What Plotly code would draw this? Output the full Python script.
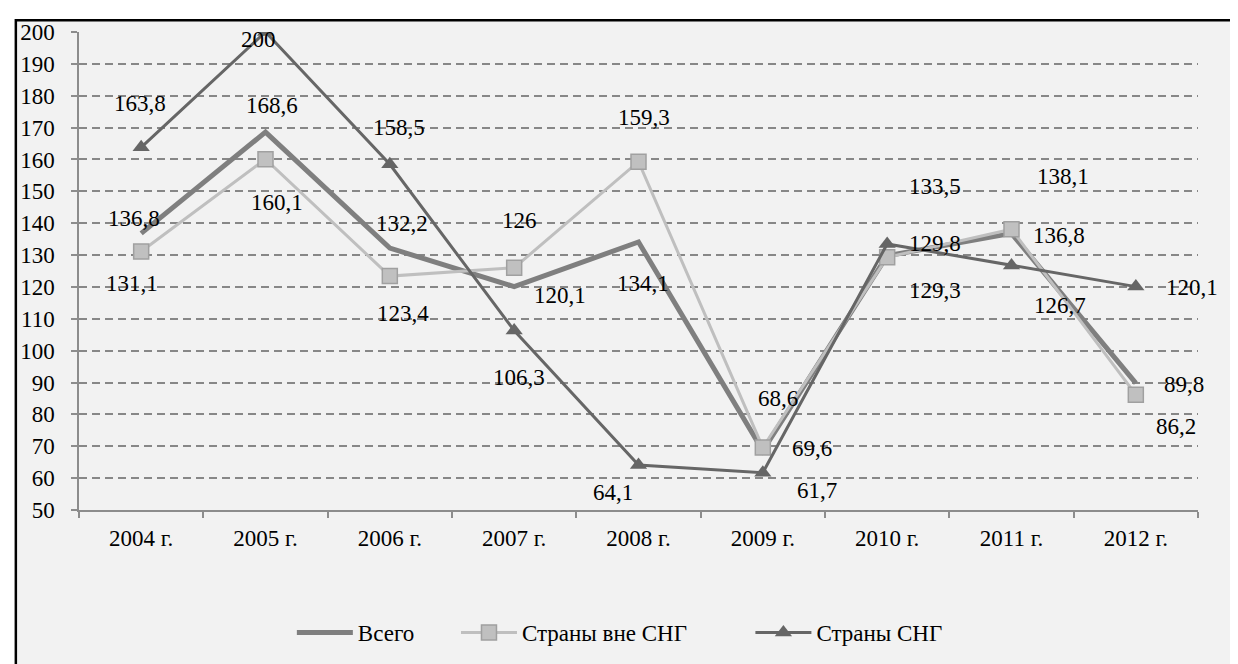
import plotly.graph_objects as go

years = ["2004 г.", "2005 г.", "2006 г.", "2007 г.", "2008 г.", "2009 г.", "2010 г.", "2011 г.", "2012 г."]
vsego = [136.8, 168.6, 132.2, 120.1, 134.1, 68.6, 129.8, 136.8, 89.8]
vne_sng = [131.1, 160.1, 123.4, 126.0, 159.3, 69.6, 129.3, 138.1, 86.2]
sng = [163.8, 200.0, 158.5, 106.3, 64.1, 61.7, 133.5, 126.7, 120.1]
names = ["Всего", "Страны вне СНГ", "Страны СНГ"]

# label offsets in pixels (dx, dy up)
off_vsego = [(-7, 15), (6, 27), (12, 25), (46, -9), (4, -41), (15, 52), (48, 12), (47, -2), (48, -1)]
off_vne = [(-9, -32), (11, -43), (13, -37), (5, 47), (5, 44), (49, -1), (48, -33), (51, 53), (40, -32)]
off_sng = [(-1, 44), (-7, -7), (9, 37), (5, -47), (-26, -27), (54, -18), (48, 57), (48, -40), (56, -1)]

FONT = "Times New Roman, Liberation Serif, serif"
FS = 23

fig = go.Figure()
fig.add_trace(go.Scatter(x=years, y=vsego, name=names[0], mode="lines", legend="legend",
                         line=dict(color="#7f7f7f", width=5)))
fig.add_trace(go.Scatter(x=years, y=vne_sng, name=names[1], mode="lines+markers", legend="legend2",
                         line=dict(color="#bfbfbf", width=3),
                         marker=dict(symbol="square", size=15, color="#c0c0c0",
                                     line=dict(color="#a0a0a0", width=1.5))))
fig.add_trace(go.Scatter(x=years, y=sng, name=names[2], mode="lines+markers", legend="legend3",
                         line=dict(color="#666666", width=3),
                         marker=dict(symbol="triangle-up", size=15, color="#666666",
                                     line=dict(width=0))))

def fmt(v):
    s = ("%.1f" % v)
    if s.endswith(".0"):
        s = s[:-2]
    return s.replace(".", ",")

annotations = []
for vals, offs in ((vsego, off_vsego), (vne_sng, off_vne), (sng, off_sng)):
    for i, (yr, v) in enumerate(zip(years, vals)):
        annotations.append(dict(x=yr, y=v, xref="x", yref="y", text=fmt(v),
                                showarrow=False, xshift=offs[i][0], yshift=offs[i][1],
                                font=dict(family=FONT, size=FS, color="black")))

OFF = 8  # page body margin
W, H = 1238, 664
# plot area in page pixels: x 73..1198, y 26..510
PX0, PX1, PY0, PY1 = 73, 1198, 26, 510
L, T = PX0 - OFF, PY0 - OFF
R = W - (PX1 - OFF)
B = H - (PY1 - OFF)
pw, ph = PX1 - PX0, PY1 - PY0

def px_x(p):
    return (p - PX0) / pw

def px_y(p):
    return (PY1 - p) / ph

def leg(xpx):
    return dict(orientation="h", x=px_x(xpx), xanchor="left", y=px_y(634), yanchor="middle",
                font=dict(family=FONT, size=FS, color="black"), itemwidth=56,
                bgcolor="rgba(0,0,0,0)")

fig.update_layout(
    width=W, height=H,
    margin=dict(l=L, r=R, t=T, b=B),
    paper_bgcolor="white",
    plot_bgcolor="#f2f2f2",
    font=dict(family=FONT, size=FS, color="black"),
    showlegend=True,
    legend=leg(287),
    legend2=leg(452),
    legend3=leg(748),
    annotations=annotations,
    shapes=[dict(type="rect", xref="paper", yref="paper", layer="below",
                 x0=px_x(9.5), x1=px_x(1260), y0=px_y(690), y1=px_y(14),
                 fillcolor="#f2f2f2", line=dict(color="black", width=2.5))],
    xaxis=dict(type="category", range=[-0.5, 8.5], showgrid=False, zeroline=False,
               showline=True, linecolor="#8c8c8c", linewidth=1.5,
               ticks="outside", ticklen=6, tickcolor="#8c8c8c", tickwidth=1.5,
               tickson="boundaries", ticklabelstandoff=7,
               tickfont=dict(family=FONT, size=FS, color="black")),
    yaxis=dict(range=[50, 200], dtick=10, tick0=50, showgrid=True,
               gridcolor="#878787", gridwidth=1.5, griddash="8px,5px", zeroline=False,
               showline=True, linecolor="#8c8c8c", linewidth=1.5,
               ticks="outside", ticklen=6, tickcolor="#8c8c8c", tickwidth=1.5,
               ticklabelstandoff=12,
               tickfont=dict(family=FONT, size=FS, color="black")),
)

fig.write_html("out.html")
